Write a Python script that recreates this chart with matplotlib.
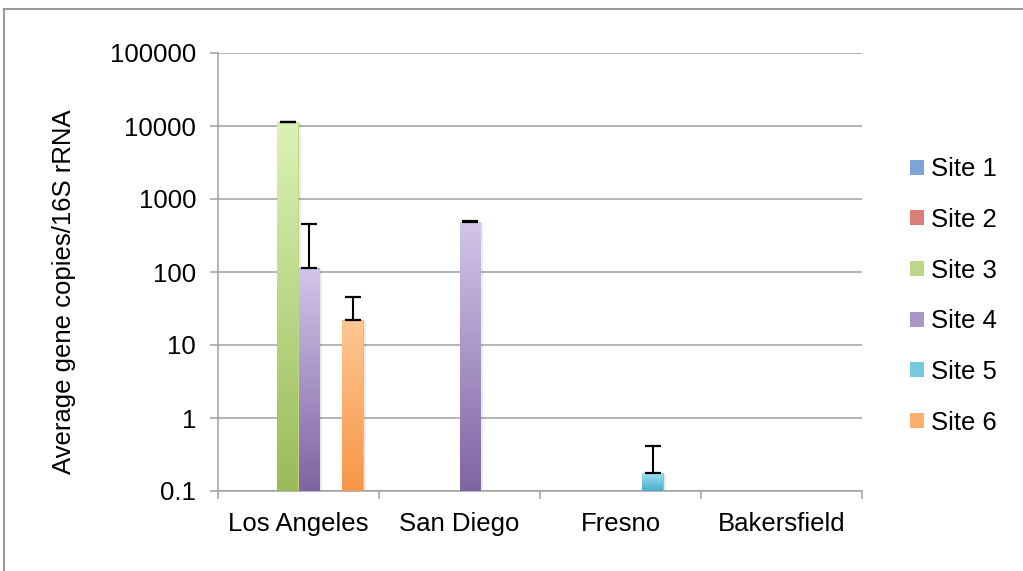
import numpy as np
import matplotlib
matplotlib.use('Agg')
import matplotlib.pyplot as plt
import matplotlib.transforms as mtransforms
from matplotlib.colors import LinearSegmentedColormap
from matplotlib.lines import Line2D
from matplotlib.patches import Rectangle

plt.rcParams['font.family'] = ['Liberation Sans', 'DejaVu Sans']

nan = np.nan
cities = ['Los Angeles', 'San Diego', 'Fresno', 'Bakersfield']
sites = ['Site 1', 'Site 2', 'Site 3', 'Site 4', 'Site 5', 'Site 6']

# average gene copies per site, one value per city
site1 = [nan, nan, nan, nan]
site2 = [nan, nan, nan, nan]
site3 = [11300, nan, nan, nan]
site4 = [112, 489, nan, nan]
site5 = [nan, nan, 0.178, nan]
site6 = [22, nan, nan, nan]

# upper error bars
err1 = [nan, nan, nan, nan]
err2 = [nan, nan, nan, nan]
err3 = [150, nan, nan, nan]
err4 = [343, 10, nan, nan]
err5 = [nan, nan, 0.24, nan]
err6 = [23, nan, nan, nan]

values = [site1, site2, site3, site4, site5, site6]
errors = [err1, err2, err3, err4, err5, err6]

# (top, bottom) gradient colours
grads = [('#a9c6ee', '#4f81bd'), ('#f4abaa', '#c0504d'), ('#dcf2b5', '#9bbb59'),
         ('#d2c5ea', '#8064a2'), ('#a2e5f7', '#4bacc6'), ('#fec793', '#f79646')]

fig = plt.figure(figsize=(10.23, 5.71), dpi=100)
ax = fig.add_axes([218/1023, 1-491/571, 644/1023, 438/571])
ax.set_yscale('log')
ymin, ymax = 0.1, 1e5
ax.set_ylim(ymin, ymax)
ax.set_xlim(-0.5, 3.5)

x = np.arange(len(cities))
w = 0.1366
blend = mtransforms.blended_transform_factory(ax.transData, ax.transAxes)
shadow_tr = mtransforms.offset_copy(blend, fig=fig, x=2, y=-1, units='dots')
grad = np.linspace(1, 0, 256).reshape(-1, 1)

handles = []
for i, (vals, errs) in enumerate(zip(values, errors)):
    pos = x + (i - 2.5) * w
    top, bot = grads[i]
    cmap = LinearSegmentedColormap.from_list('g%d' % i, [bot, top])
    mid = cmap(0.5)
    heights = np.array(vals) - ymin
    ax.bar(pos, heights, width=w, bottom=ymin, color=mid, zorder=2, linewidth=0)
    handles.append(Rectangle((0, 0), 1, 1, facecolor=mid, edgecolor='none'))
    for p, v in zip(pos, vals):
        if np.isnan(v):
            continue
        yt = (np.log10(v) - np.log10(ymin)) / (np.log10(ymax) - np.log10(ymin))
        ax.add_patch(Rectangle((p - w/2, 0), w, yt, transform=shadow_tr,
                               facecolor='#000000', alpha=0.08, linewidth=0, zorder=1.5))
        ax.imshow(grad, cmap=cmap, aspect='auto', transform=blend,
                  extent=(p - w/2, p + w/2, 0, yt), zorder=3, interpolation='bilinear')
    ax.errorbar(pos, vals, yerr=[np.zeros(len(errs)), errs], fmt='none', ecolor='black',
                elinewidth=1.5, capsize=5.8, capthick=1.6, zorder=4)

ax.set_xlim(-0.5, 3.5)
ax.set_ylim(ymin, ymax)

ticks = [0.1, 1, 10, 100, 1000, 10000, 100000]
ax.set_yticks(ticks)
ax.set_yticklabels(['0.1', '1', '10', '100', '1000', '10000', '100000'])
ax.yaxis.set_minor_locator(matplotlib.ticker.NullLocator())
ax.set_xticks(x)
ax.set_xticklabels(cities)
ax.set_xticks(np.arange(-0.5, 4, 1), minor=True)

gray = '#a0a0a0'
ax.tick_params(axis='y', which='major', length=5.8, width=1.1, color=gray,
               labelsize=18.5, pad=10)
ax.tick_params(axis='x', which='major', length=0, labelsize=18.5, pad=15)
ax.tick_params(axis='x', which='minor', length=5.8, width=1.1, color=gray)

for s in ['top', 'right']:
    ax.spines[s].set_visible(False)
for s in ['left', 'bottom']:
    ax.spines[s].set_color(gray)
    ax.spines[s].set_linewidth(1.1)
ax.grid(axis='y', which='major', color=gray, linewidth=1.1, zorder=0)
ax.set_axisbelow(True)

fig.text(64/1023, 1-292/571, 'Average gene copies/16S rRNA', rotation=90,
         ha='center', va='center', fontsize=18.5)

ax.legend(handles, sites, loc='center left', bbox_to_anchor=(910/1023, 1-296/571),
          bbox_transform=fig.transFigure, frameon=False, fontsize=18.5,
          handlelength=0.56, handleheight=0.52, handletextpad=0.25,
          labelspacing=1.04, borderpad=0, borderaxespad=0)

# outer frame, top and left only
fig.add_artist(Line2D([4/1023, 4/1023], [0, 1-9/571], color='#999999', linewidth=1.5))
fig.add_artist(Line2D([4/1023, 1], [1-9/571, 1-9/571], color='#999999', linewidth=1.5))

fig.savefig('out.png', dpi=100)
